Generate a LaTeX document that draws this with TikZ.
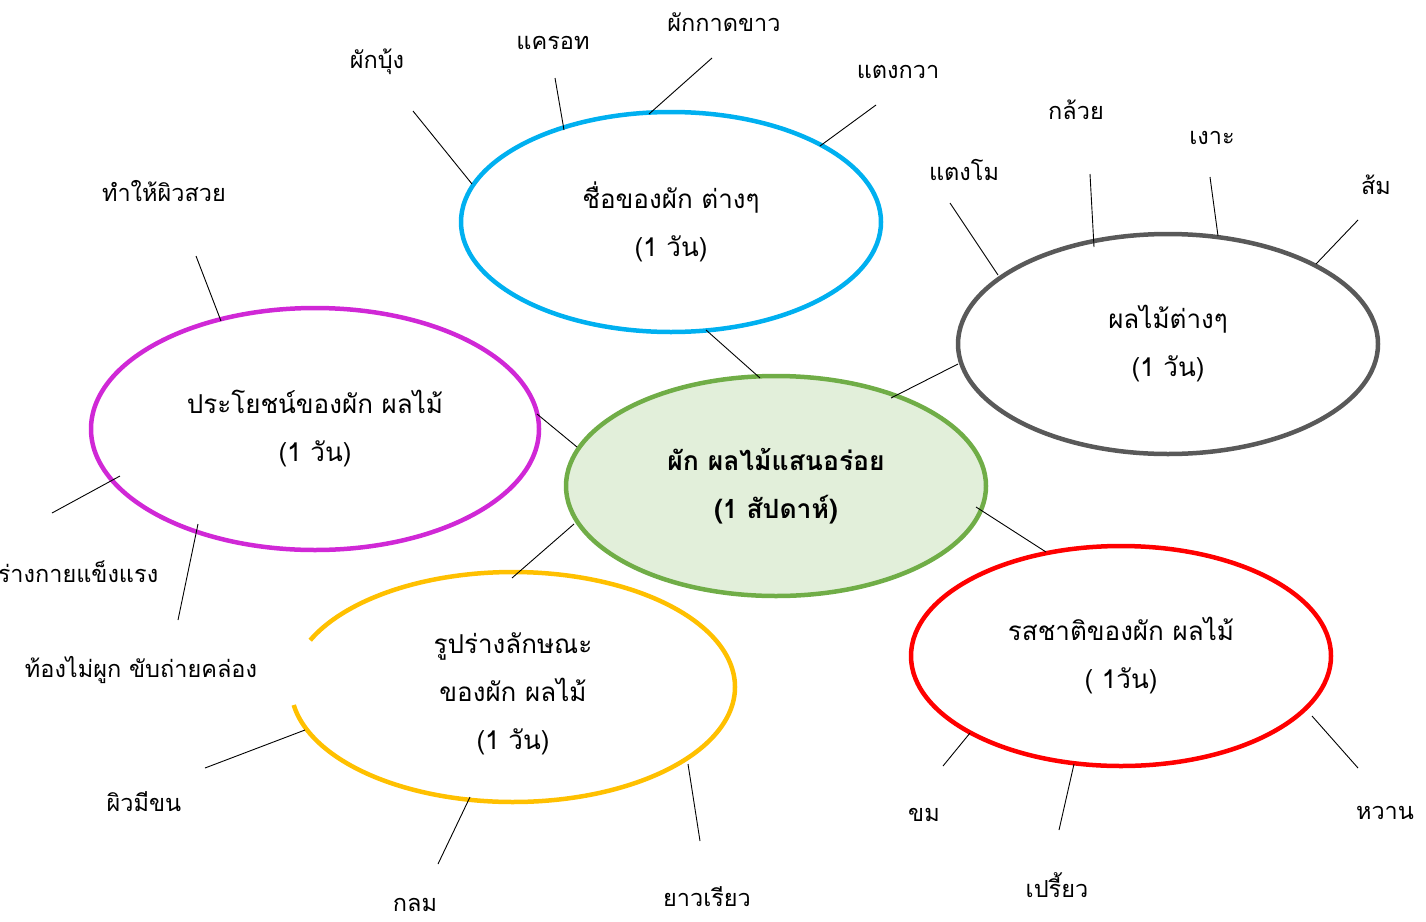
\documentclass[tikz,border=0pt]{standalone}
\usepackage{fontspec}
\setmainfont[Script=Thai]{Loma}
\usetikzlibrary{shapes.geometric}
\definecolor{cblue}{RGB}{0,176,240}
\definecolor{cgreen}{RGB}{112,173,71}
\definecolor{cgreenfill}{RGB}{226,239,218}
\definecolor{cgray}{RGB}{89,89,89}
\definecolor{cmag}{RGB}{208,40,214}
\definecolor{cred}{RGB}{255,0,0}
\definecolor{cyel}{RGB}{255,192,0}
\begin{document}
\begin{tikzpicture}[x=1pt,y=-1pt,
  topic/.style={ellipse,line width=4.5pt,inner sep=0pt,minimum width=420pt,minimum height=220pt,align=center,font=\fontsize{26}{48}\selectfont},
  lbl/.style={inner sep=0pt,font=\fontsize{23.5}{26}\selectfont},
  conn/.style={draw=black,line width=0.9pt}]
\useasboundingbox (0,0) rectangle (1426,921);
% topics
\node[topic,draw=cblue] (veg) at (671,222) {ชื่อของผัก ต่างๆ\\(1 วัน)};
\node[topic,draw=cgreen,fill=cgreenfill,font=\fontsize{26.5}{48}\selectfont\bfseries] (main) at (776,486) {ผัก ผลไม้แสนอร่อย\\(1 สัปดาห์)};
\node[topic,draw=cgray] (fruit) at (1168,344) {ผลไม้ต่างๆ\\(1 วัน)};
\node[topic,draw=cmag,minimum width=448pt,minimum height=242pt] (benefit) at (315,429) {ประโยชน์ของผัก ผลไม้\\(1 วัน)};
\node[topic,draw=cred] (taste) at (1121,656) {รสชาติของผัก ผลไม้\\( 1วัน)};
\node[topic,minimum width=444pt,minimum height=230pt] (shape) at (513,694) {รูปร่างลักษณะ\\ของผัก ผลไม้\\(1 วัน)};
\draw[cyel,line width=4.5pt] plot[domain=204:531,samples=240] ({513+222*cos(\x)},{687+115*sin(\x)});
% labels
\node[lbl] (l1) at (377,62) {ผักบุ้ง};
\node[lbl] (l2) at (553,43) {แครอท};
\node[lbl] (l3) at (724,22) {ผักกาดขาว};
\node[lbl] (l4) at (898,72) {แตงกวา};
\node[lbl] (l5) at (964,170) {แตงโม};
\node[lbl] (l6) at (1076,110) {กล้วย};
\node[lbl] (l7) at (1212,138) {เงาะ};
\node[lbl] (l8) at (1376,185) {ส้ม};
\node[lbl] (l9) at (164,191) {ทำให้ผิวสวย};
\node[lbl] (l10) at (78,572) {ร่างกายแข็งแรง};
\node[lbl] (l11) at (141,670) {ท้องไม่ผูก ขับถ่ายคล่อง};
\node[lbl] (l12) at (144,802) {ผิวมีขน};
\node[lbl] (l13) at (415,905) {กลม};
\node[lbl] (l14) at (707,897) {ยาวเรียว};
\node[lbl] (l15) at (924,815) {ขม};
\node[lbl] (l16) at (1057,885) {เปรี้ยว};
\node[lbl] (l17) at (1385,813) {หวาน};
% connector end points
\coordinate (a1) at (413,111); \coordinate (b1) at (472,184);
\coordinate (a2) at (555,78);  \coordinate (b2) at (564,130);
\coordinate (a3) at (712,58);  \coordinate (b3) at (649,114);
\coordinate (a4) at (876,105); \coordinate (b4) at (820,146);
\coordinate (a5) at (950,203); \coordinate (b5) at (998,275);
\coordinate (a6) at (1090,174); \coordinate (b6) at (1094,247);
\coordinate (a7) at (1210,177); \coordinate (b7) at (1218,236);
\coordinate (a8) at (1358,220); \coordinate (b8) at (1316,264);
\coordinate (a9) at (196,256); \coordinate (b9) at (221,321);
\coordinate (a10) at (52,513); \coordinate (b10) at (120,476);
\coordinate (a11) at (178,620); \coordinate (b11) at (198,524);
\coordinate (a12) at (205,768); \coordinate (b12) at (305,730);
\coordinate (a13) at (438,864); \coordinate (b13) at (470,797);
\coordinate (a14) at (700,841); \coordinate (b14) at (688,764);
\coordinate (a15) at (943,766); \coordinate (b15) at (970,733);
\coordinate (a16) at (1059,830); \coordinate (b16) at (1074,764);
\coordinate (a17) at (1358,768); \coordinate (b17) at (1312,716);
% topic links
\coordinate (v1) at (706,330); \coordinate (m1) at (760,378);
\coordinate (f1) at (958,364); \coordinate (m2) at (891,398);
\coordinate (e1) at (537,414); \coordinate (m3) at (577,447);
\coordinate (m4) at (574,524); \coordinate (s1) at (512,578);
\coordinate (m5) at (976,507); \coordinate (t1) at (1046,552);
\foreach \i in {1,...,17} {\draw[conn] (a\i) -- (b\i);}
\draw[conn] (v1) -- (m1);
\draw[conn] (f1) -- (m2);
\draw[conn] (e1) -- (m3);
\draw[conn] (m4) -- (s1);
\draw[conn] (m5) -- (t1);
\end{tikzpicture}
\end{document}
